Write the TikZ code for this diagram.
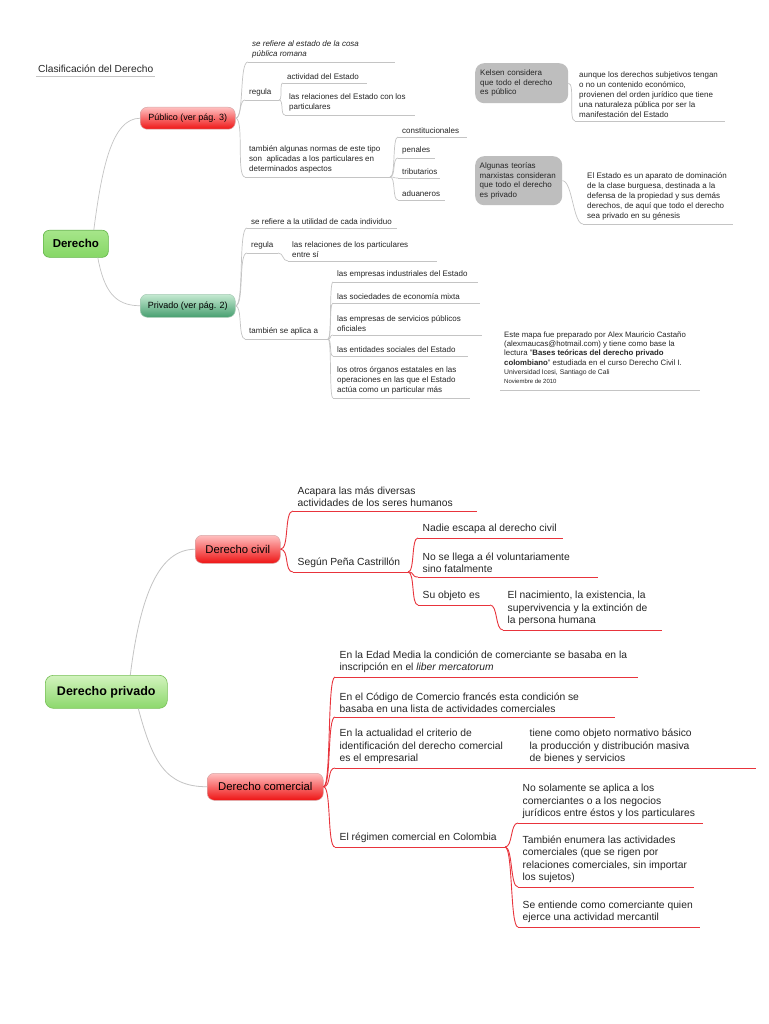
\documentclass[tikz,border=0pt]{standalone}
\usepackage{fontspec}
\setmainfont{Liberation Sans}
\definecolor{glc}{HTML}{C4C4C4}
\definecolor{rlc}{HTML}{E8343C}
\definecolor{txt}{HTML}{262626}
\definecolor{rtop}{HTML}{FFC0C0}
\definecolor{rmid}{HTML}{F85050}
\definecolor{rbot}{HTML}{EE1414}
\definecolor{rbrd}{HTML}{D8A8A8}
\definecolor{dgtop}{HTML}{A6E68A}
\definecolor{dgbot}{HTML}{86D766}
\definecolor{dgbrd}{HTML}{62B548}
\definecolor{pgtop}{HTML}{C6EAD2}
\definecolor{pgbot}{HTML}{479F70}
\definecolor{pgbrd}{HTML}{A8CBB6}
\definecolor{lgtop}{HTML}{D2F3BE}
\definecolor{lgbot}{HTML}{8CD86C}
\definecolor{lgbrd}{HTML}{78C058}
\definecolor{gbox}{HTML}{BEBEBE}
\tikzset{
  gl/.style={draw=glc, line width=0.7pt},
  rl/.style={draw=rlc, line width=0.9pt},
  ttop/.style={anchor=south west, align=left, inner xsep=4pt, inner ysep=3.2pt,
    font=\fontsize{8}{10}\selectfont, text=txt},
  btop/.style={anchor=south west, align=left, inner xsep=4.5pt, inner ysep=4.3pt,
    font=\fontsize{10.3}{12.3}\selectfont, text=txt},
  redbox/.style={anchor=north west, rounded corners=7pt, top color=rtop, middle color=rmid,
    bottom color=rbot, draw=rbrd, line width=0.5pt, text=black, inner sep=0pt},
  graybox/.style={anchor=north west, rounded corners=9pt, fill=gbox, align=left,
    inner xsep=5pt, inner ysep=0pt, font=\fontsize{8}{9.6}\selectfont, text=txt},
}
\newcommand\ttp[5]{\node[ttop] (#1) at (#2,#3) {#5};\draw[gl] (#1.south west) -- ++(#4,0) coordinate (#1-e);}
\newcommand\btp[5]{\node[btop] (#1) at (#2,#3) {#5};\draw[rl] (#1.south west) -- ++(#4,0) coordinate (#1-e);}
\newcommand\gcon[3][8]{\draw[gl] (#2) .. controls +(#1,0) and +(-#1,0) .. (#3);}
\newcommand\rcon[3][8]{\draw[rl] (#2) .. controls +(#1,0) and +(-#1,0) .. (#3);}
\begin{document}
\begin{tikzpicture}[x=1pt,y=-1pt]
\useasboundingbox (0,0) rectangle (768,1024);
\fill[white] (0,0) rectangle (768,1024);

% ---------- top map ----------
\node[ttop, inner xsep=2pt, font=\fontsize{10.2}{12}\selectfont] (title) at (36,76) {Clasificación del Derecho};
\draw[gl] (title.south west) -- ++(119,0);

\node[anchor=north west, minimum width=65pt, minimum height=27pt, rounded corners=6pt,
  top color=dgtop, bottom color=dgbot, draw=dgbrd, line width=0.6pt, inner sep=0pt,
  font=\bfseries\fontsize{11.5}{12}\selectfont, text=black] (der) at (43,230) {Derecho};
\node[redbox, minimum width=95pt, minimum height=22pt, font=\fontsize{9}{10}\selectfont] (pub) at (140,107) {Público (ver pág. 3)};
\node[anchor=north west, minimum width=95pt, minimum height=23pt, rounded corners=7pt,
  top color=pgtop, bottom color=pgbot, draw=pgbrd, line width=0.5pt, inner sep=0pt,
  font=\fontsize{9}{10}\selectfont, text=black] (priv) at (140,294) {Privado (ver pág. 2)};

\draw[gl] ([xshift=18pt]der.north) .. controls +(8,-62) and +(-28,0) .. (pub.west);
\draw[gl] ([xshift=22pt]der.south) .. controls +(6,32) and +(-26,0) .. (priv.west);

% Publico branch
\node[ttop, font=\fontsize{8}{10}\selectfont\itshape] (p1) at (248,62) {se refiere al estado de la cosa\\pública romana};
\draw[gl] (p1.south west) -- ++(147,0);
\ttp{p2}{245}{100}{34}{regula}
\ttp{p21}{283}{83}{84}{actividad del Estado}
\ttp{p22}{285}{115}{130}{las relaciones del Estado con los\\particulares}
\ttp{p3}{245}{177}{145}{también algunas normas de este tipo\\son\ \ aplicadas a los particulares en\\determinados aspectos}
\ttp{p31}{398}{137}{69}{constitucionales}
\ttp{p32}{398}{158}{37}{penales}
\ttp{p33}{398}{178}{42}{tributarios}
\ttp{p34}{398}{200}{47}{aduaneros}
\gcon[9]{pub.east}{p1.south west}
\gcon[6]{pub.east}{p2.south west}
\gcon[9]{pub.east}{p3.south west}
\gcon[4]{p2-e}{p21.south west}
\gcon[5]{p2-e}{p22.south west}
\gcon[6]{p3-e}{p31.south west}
\gcon[6]{p3-e}{p32.south west}
\gcon[6]{p3-e}{p33.south west}
\gcon[6]{p3-e}{p34.south west}

% Privado branch
\ttp{q1}{247}{228}{150}{se refiere a la utilidad de cada individuo}
\ttp{q2}{247}{253}{31}{regula}
\ttp{q21}{288}{261}{149}{las relaciones de los particulares\\entre sí}
\ttp{q3}{245}{339}{83}{también se aplica a}
\ttp{q31}{333}{282}{145}{las empresas industriales del Estado}
\ttp{q32}{333}{303}{147}{las sociedades de economía mixta}
\ttp{q33}{333}{335}{149}{las empresas de servicios públicos\\oficiales}
\ttp{q34}{333}{356}{135}{las entidades sociales del Estado}
\ttp{q35}{333}{398}{137}{los otros órganos estatales en las\\operaciones en las que el Estado\\actúa como un particular más}
\gcon[9]{priv.east}{q1.south west}
\gcon[9]{priv.east}{q2.south west}
\gcon[7]{priv.east}{q3.south west}
\gcon[6]{q2-e}{q21.south west}
\gcon[4]{q3-e}{q31.south west}
\gcon[4]{q3-e}{q32.south west}
\gcon[4]{q3-e}{q33.south west}
\gcon[4]{q3-e}{q34.south west}
\gcon[4]{q3-e}{q35.south west}

% floating gray topics
\node[graybox, minimum width=93pt, minimum height=40pt, text width=83pt] (kel) at (475,63) {Kelsen considera\\que todo el derecho\\es público};
\ttp{kc}{575}{121}{150}{aunque los derechos subjetivos tengan\\o no un contenido económico,\\provienen del orden jurídico que tiene\\una naturaleza pública por ser la\\manifestación del Estado}
\gcon[7]{kel.east}{kc.south west}
\node[graybox, minimum width=87pt, minimum height=49pt, text width=78pt, inner xsep=4.5pt] (mar) at (475,156) {Algunas teorías\\marxistas consideran\\que todo el derecho\\es privado};
\ttp{mc}{583}{224}{150}{El Estado es un aparato de dominación\\de la clase burguesa, destinada a la\\defensa de la propiedad y sus demás\\derechos, de aquí que todo el derecho\\sea privado en su génesis}
\gcon[10]{mar.east}{mc.south west}

% footnote
\node[ttop, inner ysep=6pt, font=\fontsize{7.8}{9.3}\selectfont] (fn) at (500,390) {Este mapa fue preparado por Alex Mauricio Castaño\\(alexmaucas@hotmail.com) y tiene como base la\\lectura "\textbf{Bases teóricas del derecho privado}\\\textbf{colombiano}" estudiada en el curso Derecho Civil I.\\{\fontsize{6.8}{8.6}\selectfont Universidad Icesi, Santiago de Cali}\\{\fontsize{6}{8}\selectfont Noviembre de 2010}};
\draw[gl] (fn.south west) -- ++(200,0);

% ---------- bottom map ----------
\node[anchor=north west, minimum width=122pt, minimum height=33pt, rounded corners=8pt,
  top color=lgtop, bottom color=lgbot, draw=lgbrd, line width=0.6pt, inner sep=0pt,
  font=\bfseries\fontsize{12.5}{13}\selectfont, text=black] (dp) at (45,675) {Derecho privado};
\node[redbox, minimum width=85pt, minimum height=28pt, font=\fontsize{11.3}{12}\selectfont] (civ) at (195,535) {Derecho civil};
\node[redbox, minimum width=116pt, minimum height=27pt, font=\fontsize{11.3}{12}\selectfont] (com) at (207,773) {Derecho comercial};
\draw[gl, line width=0.8pt] ([xshift=24pt]dp.north) .. controls +(10,-80) and +(-36,0) .. (civ.west);
\draw[gl, line width=0.8pt] ([xshift=32pt]dp.south) .. controls +(14,52) and +(-42,0) .. (com.west);

\btp{c1}{293}{511}{184}{Acapara las más diversas\\actividades de los seres humanos}
\btp{c2}{293}{572}{115}{Según Peña Castrillón}
\btp{c21}{418}{538}{145}{Nadie escapa al derecho civil}
\btp{c22}{418}{577}{180}{No se llega a él voluntariamente\\sino fatalmente}
\btp{c23}{418}{605}{72}{Su objeto es}
\btp{c231}{503}{630}{159}{El nacimiento, la existencia, la\\supervivencia y la extinción de\\la persona humana}
\rcon[9]{civ.east}{c1.south west}
\rcon[9]{civ.east}{c2.south west}
\rcon[7]{c2-e}{c21.south west}
\rcon[7]{c2-e}{c22.south west}
\rcon[7]{c2-e}{c23.south west}
\rcon[8]{c23-e}{c231.south west}

\btp{k1}{335}{677}{303}{En la Edad Media la condición de comerciante se basaba en la\\inscripción en el \textit{liber mercatorum}}
\btp{k2}{335}{717}{280}{En el Código de Comercio francés esta condición se\\basaba en una lista de actividades comerciales}
\btp{k3}{335}{768}{185}{En la actualidad el criterio de\\identificación del derecho comercial\\es el empresarial}
\btp{k31}{525}{768}{231}{tiene como objeto normativo básico\\la producción y distribución masiva\\de bienes y servicios}
\btp{k4}{335}{847}{170}{El régimen comercial en Colombia}
\btp{k41}{518}{823}{185}{No solamente se aplica a los\\comerciantes o a los negocios\\jurídicos entre éstos y los particulares}
\btp{k42}{518}{887}{176}{También enumera las actividades\\comerciales (que se rigen por\\relaciones comerciales, sin importar\\los sujetos)}
\btp{k43}{518}{927}{182}{Se entiende como comerciante quien\\ejerce una actividad mercantil}
\rcon[8]{com.east}{k1.south west}
\rcon[8]{com.east}{k2.south west}
\rcon[8]{com.east}{k3.south west}
\rcon[8]{com.east}{k4.south west}
\rcon[2]{k3-e}{k31.south west}
\rcon[8]{k4-e}{k41.south west}
\rcon[8]{k4-e}{k42.south west}
\rcon[8]{k4-e}{k43.south west}
\end{tikzpicture}
\end{document}
